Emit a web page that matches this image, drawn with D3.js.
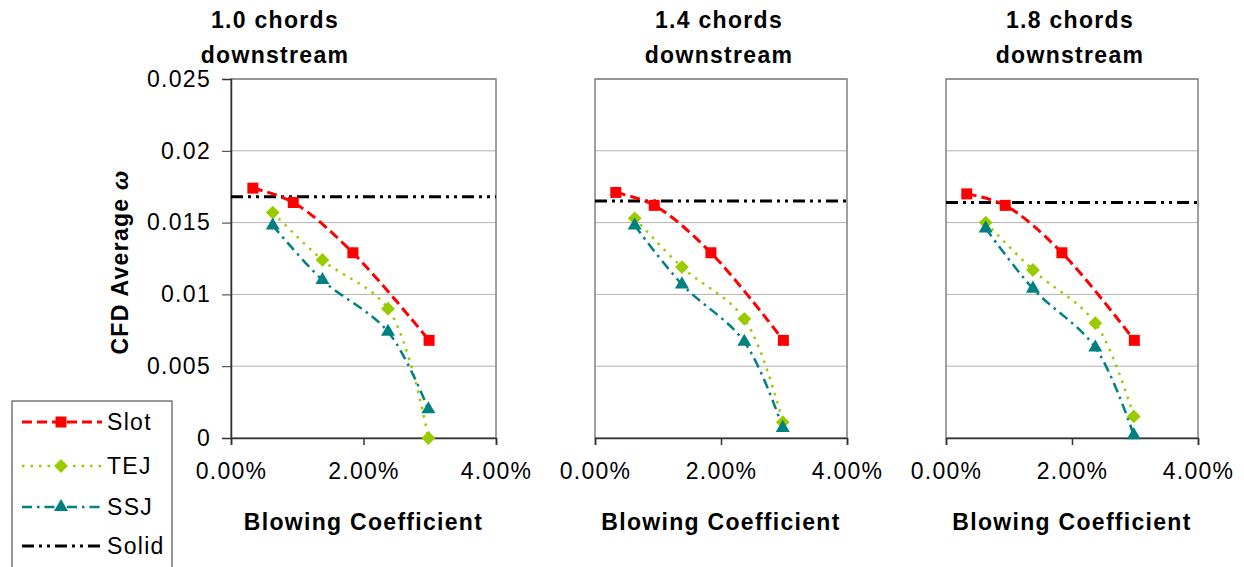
<!DOCTYPE html>
<html>
<head>
<meta charset="utf-8">
<script src="https://cdn.jsdelivr.net/npm/d3@7"></script>
<style>
  body { margin: 0; background: #fff; }
  svg { font-family: "Liberation Sans", Arial, sans-serif; }
  svg text { letter-spacing: 1.3px; }
</style>
</head>
<body>
<svg id="chart" width="1244" height="567"></svg>
<script>
// panel titles (two lines each)
const panelTitles = [['1.0 chords', 'downstream'], ['1.4 chords', 'downstream'], ['1.8 chords', 'downstream']]

// blowing coefficient (%) for each series
const slotX = [0.33, 0.94, 1.84, 2.99]
const jetX = [0.63, 1.38, 2.37, 2.98]

// CFD average omega, one array per panel
const slotY = [
  [0.0174, 0.0164, 0.0129, 0.0068],
  [0.0171, 0.0162, 0.0129, 0.0068],
  [0.0170, 0.0162, 0.0129, 0.0068]
]
const tejY = [
  [0.0157, 0.0124, 0.0090, 0.0000],
  [0.0153, 0.0119, 0.0083, 0.0011],
  [0.0150, 0.0117, 0.0080, 0.0015]
]
const ssjY = [
  [0.0148, 0.0110, 0.0074, 0.0020],
  [0.0148, 0.0107, 0.0067, 0.0007],
  [0.0146, 0.0104, 0.0063, 0.0002]
]
const solidY = [0.0168, 0.0165, 0.0164]

const yTicks = [0, 0.005, 0.01, 0.015, 0.02, 0.025]
const xTicks = [0, 2, 4]

const seriesNames = ['Slot', 'TEJ', 'SSJ', 'Solid']
const colors = { Slot: '#ff0000', TEJ: '#99cc00', SSJ: '#008080', Solid: '#000000' }
const dashes = { Slot: '10,5', TEJ: '2.5,6', SSJ: '10,5,2.5,5', Solid: '12,5,3,5,3,5' }
const widths = { Slot: 3, TEJ: 2.5, SSJ: 2.5, Solid: 3 }

// marker shapes: square, diamond (rotated square), triangle
const symbols = { Slot: d3.symbolSquare, TEJ: d3.symbolSquare, SSJ: d3.symbolTriangle, Solid: null }
const symSize = { Slot: 121, TEJ: 95, SSJ: 85 }
const symRot = { Slot: 0, TEJ: 45, SSJ: 0 }

const panels = [
  { left: 231, right: 496, titleX: 275 },
  { left: 595, right: 847, titleX: 719 },
  { left: 946, right: 1198, titleX: 1070 }
]
const plotTop = 79, plotBottom = 438
const fontStack = '"Liberation Sans", Arial, sans-serif'

const svg = d3.select('#chart')

const y = d3.scaleLinear().domain([0, 0.025]).range([plotBottom, plotTop])

function marker (sel, name) {
  sel.attr('d', d3.symbol(symbols[name], symSize[name])())
    .attr('fill', colors[name])
}

panels.forEach((p, i) => {
  const x = d3.scaleLinear().domain([0, 4]).range([p.left, p.right])
  const g = svg.append('g')

  // gridlines
  g.selectAll('.grid')
    .data(yTicks.slice(1))
    .enter().append('line')
      .attr('x1', p.left).attr('x2', p.right)
      .attr('y1', d => y(d)).attr('y2', d => y(d))
      .attr('stroke', '#b3b3b3').attr('stroke-width', 1)

  // plot area border
  g.append('rect')
    .attr('x', p.left).attr('y', plotTop)
    .attr('width', p.right - p.left).attr('height', plotBottom - plotTop)
    .attr('fill', 'none').attr('stroke', '#808080').attr('stroke-width', 1.5)

  // bottom axis
  const xAxis = d3.axisBottom(x).tickValues(xTicks).tickSize(7)
    .tickFormat(d => d3.format('.2f')(d) + '%').tickPadding(18)
  const xa = g.append('g').attr('transform', 'translate(0,' + plotBottom + ')').call(xAxis)
  xa.select('.domain').attr('stroke', '#333').attr('stroke-width', 1.5)
  xa.selectAll('.tick line').attr('stroke', '#333').attr('stroke-width', 1.5)
  xa.selectAll('text').attr('font-size', 23).attr('fill', '#000')
    .attr('font-family', fontStack)

  // left axis only on first panel
  if (i === 0) {
    const yAxis = d3.axisLeft(y).tickValues(yTicks).tickSize(9).tickPadding(11)
      .tickFormat(d => d === 0 ? '0' : String(+d.toFixed(3)))
    const ya = g.append('g').attr('transform', 'translate(' + p.left + ',0)').call(yAxis)
    ya.select('.domain').attr('stroke', '#333').attr('stroke-width', 1.5)
    ya.selectAll('.tick line').attr('stroke', '#333').attr('stroke-width', 1)
    ya.selectAll('text').attr('font-size', 23).attr('fill', '#000')
      .attr('font-family', fontStack)
  }

  // titles
  g.append('text')
    .attr('x', p.titleX).attr('text-anchor', 'middle')
    .attr('font-size', 23).attr('font-weight', 'bold')
    .selectAll('tspan').data(panelTitles[i]).enter().append('tspan')
      .attr('x', p.titleX).attr('y', (d, k) => 28 + k * 35).text(d => d)

  g.append('text')
    .attr('x', (p.left + p.right) / 2).attr('y', 530)
    .attr('text-anchor', 'middle').attr('font-size', 23).attr('font-weight', 'bold')
    .text('Blowing Coefficient')

  // solid reference line
  g.append('line')
    .attr('x1', x(0)).attr('x2', x(4))
    .attr('y1', y(solidY[i])).attr('y2', y(solidY[i]))
    .attr('stroke', colors.Solid).attr('stroke-width', widths.Solid)
    .attr('stroke-dasharray', dashes.Solid)

  const series = [
    { name: 'Slot', xs: slotX, ys: slotY[i] },
    { name: 'TEJ', xs: jetX, ys: tejY[i] },
    { name: 'SSJ', xs: jetX, ys: ssjY[i] }
  ]
  const line = d3.line().x(d => x(d[0])).y(d => y(d[1])).curve(d3.curveCatmullRom.alpha(0.5))

  series.forEach(s => {
    const pts = s.xs.map((v, k) => [v, s.ys[k]])
    g.append('path')
      .attr('d', line(pts))
      .attr('fill', 'none').attr('stroke', colors[s.name])
      .attr('stroke-width', widths[s.name]).attr('stroke-dasharray', dashes[s.name])
  })
  series.forEach(s => {
    const pts = s.xs.map((v, k) => [v, s.ys[k]])
    g.selectAll('.m' + s.name).data(pts).enter().append('path')
      .attr('transform', d => 'translate(' + x(d[0]) + ',' + y(d[1]) + ') rotate(' + symRot[s.name] + ')')
      .call(marker, s.name)
  })
})

// y axis title
svg.append('text')
  .attr('transform', 'translate(128,262) rotate(-90)')
  .attr('text-anchor', 'middle').attr('font-size', 23).attr('font-weight', 'bold')
  .text('CFD Average  ')
  .append('tspan').attr('font-style', 'italic').text('ω')

// legend
const legend = svg.append('g')
legend.append('rect')
  .attr('x', 12).attr('y', 401).attr('width', 160).attr('height', 180)
  .attr('fill', '#fff').attr('stroke', '#333').attr('stroke-width', 1)

const legendY = [422, 466, 507, 546]
seriesNames.forEach((n, k) => {
  const ly = legendY[k]
  legend.append('line')
    .attr('x1', 22).attr('x2', 102).attr('y1', ly).attr('y2', ly)
    .attr('stroke', colors[n]).attr('stroke-width', widths[n])
    .attr('stroke-dasharray', dashes[n])
  if (symbols[n]) {
    legend.append('path')
      .attr('transform', 'translate(61,' + ly + ') rotate(' + symRot[n] + ')')
      .call(marker, n)
  }
  legend.append('text')
    .attr('x', 107).attr('y', ly + 8).attr('font-size', 23).text(n)
})
</script>
</body>
</html>
